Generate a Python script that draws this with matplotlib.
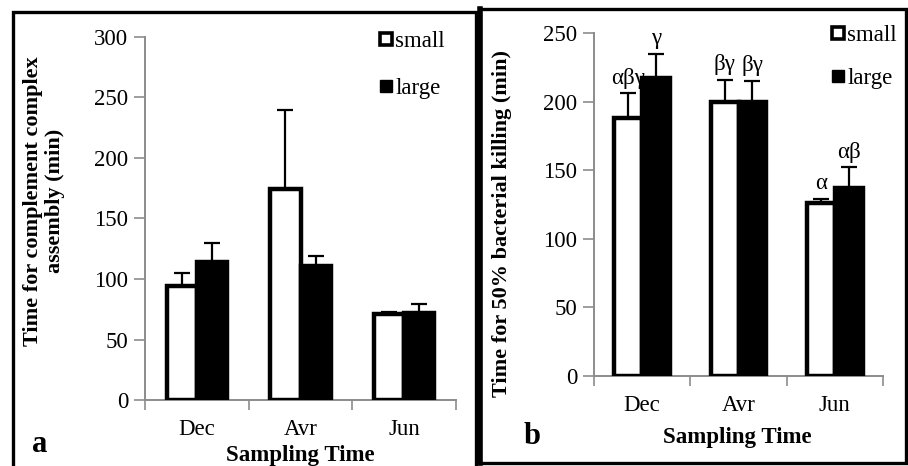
import matplotlib
matplotlib.use("Agg")
import matplotlib.pyplot as plt
from matplotlib.patches import Rectangle
from matplotlib.lines import Line2D
import numpy as np

plt.rcParams['font.family'] = ['Liberation Serif', 'DejaVu Serif']

categories = ["Dec", "Avr", "Jun"]
series = ["small", "large"]

# Panel a: time for complement complex assembly (min)
a_small = [94, 174, 71]
a_small_err = [11, 66, 1.5]
a_large = [114, 111, 72]
a_large_err = [16, 8, 7]

# Panel b: time for 50% bacterial killing (min)
b_small = [188, 200, 126]
b_small_err = [18, 16, 3]
b_large = [217, 200, 137]
b_large_err = [18, 15, 15]
b_small_sig = ["αβγ", "βγ", "α"]
b_large_sig = ["γ", "βγ", "αβ"]

W, H = 908, 466
fig = plt.figure(figsize=(W / 100, H / 100), dpi=100)

FS = 16.5


def fx(px):
    return px / W


def fy(py):
    return 1 - py / H


def make_panel(rect, small, small_err, large, large_err, ymax, ystep, ylabel,
               ylab_xy, xlab_xy, tick_pad, leg_anchor, leg_space, sig=None):
    ax = fig.add_axes(rect)
    x = np.arange(len(categories)) + 0.5
    bw = 0.29
    ekw = dict(ecolor='black', elinewidth=1.6, capsize=5.8, capthick=1.6)
    zeros = [0] * len(categories)
    ax.bar(x - bw / 2, small, bw, color='white', edgecolor='black',
           linewidth=3.2, zorder=3)
    ax.bar(x + bw / 2, large, bw, color='black', edgecolor='black',
           linewidth=3.2, zorder=3)
    ax.errorbar(x - bw / 2, small, yerr=[zeros, small_err], fmt='none',
                zorder=2, **ekw)
    ax.errorbar(x + bw / 2, large, yerr=[zeros, large_err], fmt='none',
                zorder=2, **ekw)
    if sig is not None:
        s_sig, l_sig = sig
        for i in range(len(categories)):
            ax.text(x[i] - bw / 2, small[i] + small_err[i] + 3.5, s_sig[i],
                    ha='center', va='bottom', fontsize=FS)
            ax.text(x[i] + bw / 2, large[i] + large_err[i] + 3.5, l_sig[i],
                    ha='center', va='bottom', fontsize=FS)
    ax.set_xlim(0, len(categories))
    ax.set_ylim(0, ymax)
    ax.set_yticks(np.arange(0, ymax + 1, ystep))
    ax.set_xticks(np.arange(0, len(categories) + 1))
    ax.set_xticklabels([])
    ax.set_xticks(x, minor=True)
    ax.set_xticklabels(categories, minor=True)
    ax.tick_params(axis='x', which='major', direction='out', length=7,
                   width=1.2, color='#8c8c8c')
    ax.tick_params(axis='x', which='minor', length=0, pad=tick_pad,
                   labelsize=FS)
    ax.tick_params(axis='y', direction='out', length=8, width=1.2,
                   color='#8c8c8c', labelsize=FS, pad=4)
    for s in ['top', 'right']:
        ax.spines[s].set_visible(False)
    for s in ['left', 'bottom']:
        ax.spines[s].set_color('#8c8c8c')
        ax.spines[s].set_linewidth(1.4)
    ax.set_ylabel(ylabel, fontsize=16, fontweight='bold', linespacing=1.15)
    ax.yaxis.set_label_coords(*ylab_xy)
    ax.yaxis.label.set_verticalalignment('center')
    ax.set_xlabel("Sampling Time", fontsize=16.5, fontweight='bold')
    ax.xaxis.set_label_coords(*xlab_xy)
    ax.xaxis.label.set_verticalalignment('center')
    h_small = Line2D([], [], linestyle='none', marker='s', markersize=9,
                     markerfacecolor='white', markeredgecolor='black',
                     markeredgewidth=2.6)
    h_large = Line2D([], [], linestyle='none', marker='s', markersize=8,
                     markerfacecolor='black', markeredgecolor='black')
    ax.legend(handles=[h_small, h_large], labels=series, loc='upper left',
              frameon=False, fontsize=FS, handlelength=0.6,
              handletextpad=0.1, labelspacing=leg_space,
              bbox_to_anchor=leg_anchor, borderaxespad=0, borderpad=0)
    return ax


# Panel a
ha_px = fy(37) - fy(400)
ra = [fx(145), fy(400), fx(456) - fx(145), ha_px]
ax_a = make_panel(ra, a_small, a_small_err, a_large, a_large_err, 300, 50,
                  "Time for complement complex\nassembly (min)",
                  ((44 - 145) / 311, (fy(201) - fy(400)) / ha_px),
                  ((300 - 145) / 311, (fy(455) - fy(400)) / ha_px),
                  tick_pad=14, leg_space=1.15,
                  leg_anchor=((379 - 145) / 311, (fy(31) - fy(400)) / ha_px))

# Panel b
hb_px = fy(33) - fy(376)
rb = [fx(594), fy(376), fx(883) - fx(594), hb_px]
ax_b = make_panel(rb, b_small, b_small_err, b_large, b_large_err, 250, 50,
                  "Time for 50% bacterial killing (min)",
                  ((502 - 594) / 289, (fy(224) - fy(376)) / hb_px),
                  ((737 - 594) / 289, (fy(437) - fy(376)) / hb_px),
                  tick_pad=14, sig=(b_small_sig, b_large_sig), leg_space=0.95,
                  leg_anchor=((831 - 594) / 289, (fy(25) - fy(376)) / hb_px))

# panel letters
fig.text(fx(40), fy(444), "a", fontsize=22, fontweight='bold',
         ha='center', va='center')
fig.text(fx(532), fy(436), "b", fontsize=22, fontweight='bold',
         ha='center', va='center')

# panel frames
fig.add_artist(Rectangle((fx(13), fy(500)), fx(476) - fx(13), fy(12) - fy(500),
                         transform=fig.transFigure, fill=False,
                         edgecolor='black', linewidth=2.4))
fig.add_artist(Rectangle((fx(480), fy(463)), fx(906) - fx(480), fy(9) - fy(463),
                         transform=fig.transFigure, fill=False,
                         edgecolor='black', linewidth=2.4))
fig.add_artist(Line2D([fx(480), fx(480)], [fy(463), fy(9)],
                      transform=fig.transFigure, color='black',
                      linewidth=4))

fig.savefig("out.png", dpi=100)
